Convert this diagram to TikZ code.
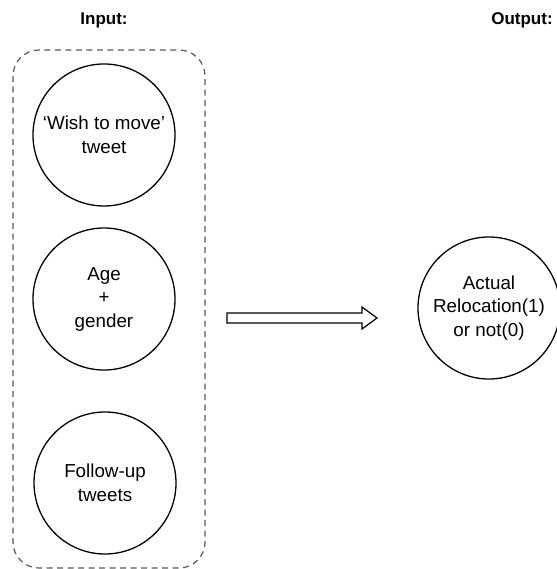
\documentclass[tikz,border=0pt]{standalone}
\usepackage{fontspec}
\setmainfont{Liberation Sans}
\usetikzlibrary{fit}
\begin{document}
\begin{tikzpicture}[x=1pt,y=-1pt,
  circ/.style={draw=black, line width=1.3pt, circle, minimum size=142pt, inner sep=0pt, align=center, font=\fontsize{18.8}{23.5}\selectfont},
  title/.style={font=\fontsize{17}{20}\selectfont\bfseries},
  groupbox/.style={draw=black!65, line width=1.2pt, dash pattern=on 6pt off 4.5pt, rounded corners=26pt},
  bigarrow/.style={draw=black, line width=1.2pt, fill=white}]
\useasboundingbox (0,0) rectangle (556,569);
\node[title] (tin) at (104,20) {Input:};
\node[title] (tout) at (522,20) {Output:};
\node[circ] (c1) at (104,135) {`Wish to move'\\tweet};
\node[circ] (c2) at (104,299) {Age\\+\\gender};
\node[circ] (c3) at (105,483) {Follow-up\\tweets};
\node[circ] (out) at (489,308) {Actual\\Relocation(1)\\or not(0)};
\draw[groupbox] (13,50) rectangle (205,568);
\coordinate (as) at (227,318);
\coordinate (ae) at (377,318);
\draw[bigarrow] ([yshift=-5pt]as) -- ([xshift=-15pt,yshift=-5pt]ae) -- ([xshift=-15pt,yshift=-11pt]ae) -- (ae) -- ([xshift=-15pt,yshift=11pt]ae) -- ([xshift=-15pt,yshift=5pt]ae) -- ([yshift=5pt]as) -- cycle;
\end{tikzpicture}
\end{document}
